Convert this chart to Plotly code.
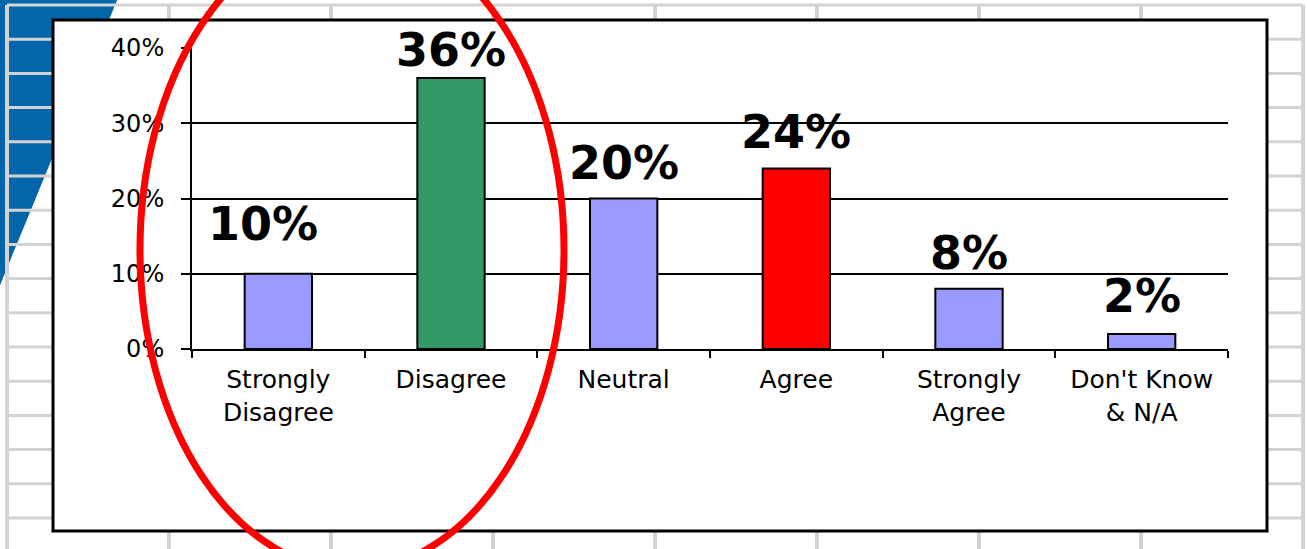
import plotly.graph_objects as go

# Survey responses
categories = ["Strongly<br>Disagree", "Disagree", "Neutral", "Agree",
              "Strongly<br>Agree", "Don't Know<br>& N/A"]
values = [10, 36, 20, 24, 8, 2]
bar_colors = ["#9999FF", "#339966", "#9999FF", "#FF0000", "#9999FF", "#9999FF"]
value_labels = ["10%", "36%", "20%", "24%", "8%", "2%"]
y_ticks = [0, 10, 20, 30, 40]
y_tick_labels = ["0%", "10%", "20%", "30%", "40%"]

# Hand-placed offsets of the value labels (px above / beside the bar top)
label_yshift = [21, -1, 7, 7, 7, 9]
label_xshift = [-15, 0, 0, 0, 0, 0]

W, H = 1307, 549
PL, PR, PT, PB = 192, 1228, 48, 349   # plot area edges in px
FONT = "DejaVu Sans"


def fx(x):
    return (x - PL) / (PR - PL)


def fy(y):
    return (PB - y) / (PB - PT)


shapes = []

# Blue slide-corner wedge
shapes.append(dict(type="path", xref="paper", yref="paper", layer="below",
                   path=f"M {fx(-2)},{fy(-2)} L {fx(118)},{fy(-2)} L {fx(-2)},{fy(290)} Z",
                   fillcolor="#0565AB", line=dict(width=0)))

# Worksheet cell grid behind the chart
grid_col = "#D3D3D3"
for i in range(9):
    x = 7 + 162 * i
    shapes.append(dict(type="line", xref="paper", yref="paper", layer="below",
                       x0=fx(x), x1=fx(x), y0=fy(5), y1=fy(560),
                       line=dict(color=grid_col, width=4)))
for i in range(17):
    y = 5 + 34.2 * i
    shapes.append(dict(type="line", xref="paper", yref="paper", layer="below",
                       x0=fx(7), x1=fx(1303), y0=fy(y), y1=fy(y),
                       line=dict(color=grid_col, width=3)))

# Chart frame
shapes.append(dict(type="rect", xref="paper", yref="paper", layer="below",
                   x0=fx(53), x1=fx(1267), y0=fy(531), y1=fy(20),
                   fillcolor="white", line=dict(color="black", width=3)))

# Red highlight ellipse
cx, cy, a, b = 352, 250, 212, 320
shapes.append(dict(type="circle", xref="paper", yref="paper", layer="above",
                   x0=fx(cx - a), x1=fx(cx + a), y0=fy(cy + b), y1=fy(cy - b),
                   line=dict(color="#FF0000", width=7)))

fig = go.Figure(go.Bar(
    x=categories, y=values, width=0.39,
    marker=dict(color=bar_colors, line=dict(color="black", width=2)),
    showlegend=False, hoverinfo="skip",
))

annotations = []
for c, v, t, ys, xs in zip(categories, values, value_labels, label_yshift, label_xshift):
    annotations.append(dict(x=c, y=v, xref="x", yref="y", text=t, showarrow=False,
                            yanchor="bottom", xanchor="center", yshift=ys, xshift=xs,
                            font=dict(family=FONT, size=46, color="black", weight="bold")))

fig.update_layout(
    width=W, height=H,
    margin=dict(l=PL, r=W - PR, t=PT, b=H - PB, pad=0),
    paper_bgcolor="white", plot_bgcolor="rgba(0,0,0,0)",
    shapes=shapes, annotations=annotations,
    bargap=0.61,
)
fig.update_yaxes(range=[0, 40], tickmode="array", tickvals=y_ticks, ticktext=y_tick_labels,
                 showgrid=True, gridcolor="black", gridwidth=2, zeroline=False,
                 showline=True, linecolor="black", linewidth=2,
                 ticks="outside", ticklen=9, tickwidth=2, tickcolor="black",
                 tickfont=dict(family=FONT, size=24, color="black"),
                 ticklabelstandoff=12, fixedrange=True)
fig.update_xaxes(showgrid=False, showline=True, linecolor="black", linewidth=2,
                 ticks="outside", tickson="boundaries", ticklen=7, tickwidth=2,
                 tickcolor="black", tickangle=0,
                 tickfont=dict(family=FONT, size=25, color="black"),
                 ticklabelstandoff=7, fixedrange=True)

fig.write_html("out.html")
